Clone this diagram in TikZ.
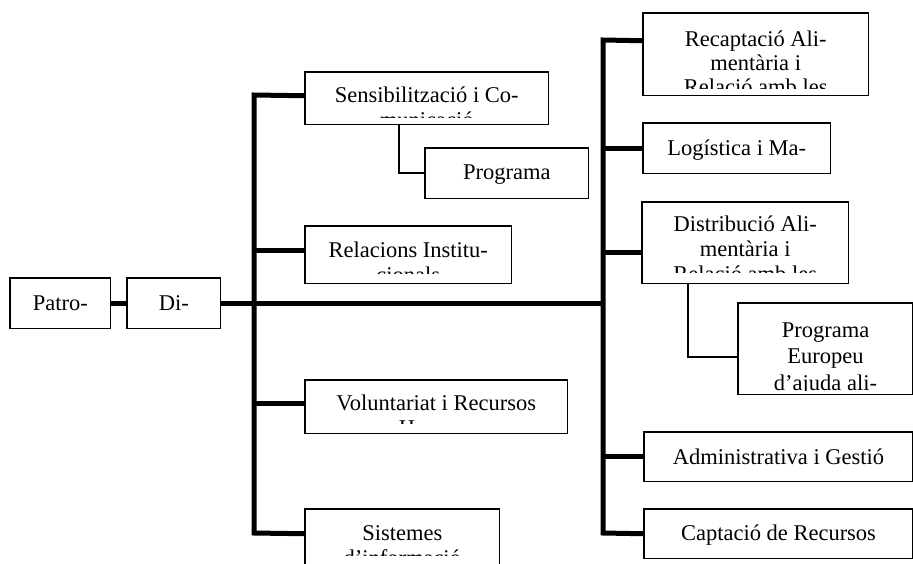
\documentclass[tikz,border=0pt]{standalone}
\usepackage{fontspec}
\setmainfont{Liberation Serif}
\begin{document}
\begin{tikzpicture}[x=1pt,y=-1pt,
  box/.style={draw=black, line width=1.5pt, fill=white, inner sep=0pt, anchor=north west},
  trunk/.style={line width=5pt, line join=miter},
  twig/.style={line width=2pt},
  txt/.style={anchor=base, align=center, inner sep=0pt, font=\fontsize{22.5}{25}\selectfont},
  txtA/.style={txt, font=\fontsize{22.5}{24}\selectfont},
  txtB/.style={txt, font=\fontsize{22.5}{26.5}\selectfont}]
\useasboundingbox (0,0) rectangle (913,563);
\clip (0,0) rectangle (913,563);

% boxes
\node[box, minimum width=99pt,  minimum height=49pt] (patro) at (10,278) {};
\node[box, minimum width=92pt,  minimum height=49pt] (dir)   at (127,278) {};
\node[box, minimum width=242pt, minimum height=51pt] (sens)  at (305,72) {};
\node[box, minimum width=162pt, minimum height=49pt] (prog)  at (425,148) {};
\node[box, minimum width=205pt, minimum height=56pt] (rel)   at (305,226) {};
\node[box, minimum width=261pt, minimum height=52pt] (vol)   at (305,380) {};
\node[box, minimum width=193pt, minimum height=60pt] (sis)   at (305,509) {};
\node[box, minimum width=224pt, minimum height=81pt] (rec)   at (643,13) {};
\node[box, minimum width=186pt, minimum height=49pt] (log)   at (643,123) {};
\node[box, minimum width=205pt, minimum height=80pt] (dist)  at (642,202) {};
\node[box, minimum width=173.5pt, minimum height=90pt] (pe)  at (738,303) {};
\node[box, minimum width=267.5pt, minimum height=48pt] (adm) at (644,432) {};
\node[box, minimum width=267.5pt, minimum height=48pt] (cap) at (644,509) {};

% connection points
\path ([yshift=2.5pt]sens.west) coordinate (sensp)
      ([yshift=4pt]rel.west) coordinate (relp)
      ([yshift=3pt]vol.west) coordinate (volp)
      ([yshift=6pt]sis.west) coordinate (sisp)
      ([yshift=13.5pt]rec.west) coordinate (recp)
      ([yshift=-10pt]dist.west) coordinate (distp)
      ([yshift=-8pt]pe.west) coordinate (pep)
      ([xshift=-28pt]sens.south) coordinate (sensd)
      ([xshift=-57.5pt]dist.south) coordinate (distd);
\coordinate (lt) at (254,95);
\coordinate (lb) at (254,533);
\coordinate (rt) at (603,40);
\coordinate (rb) at (603,533);

% trunk lines
\draw[trunk] (patro.east) -- (dir.west);
\draw[trunk] (dir.east) -- (rt |- dir.east);
\draw[trunk] (sensp) -- (lt) -- (lb) -- (sisp);
\draw[trunk] (relp) -- (lt |- relp);
\draw[trunk] (volp) -- (lt |- volp);
\draw[trunk] (recp) -- (rt) -- (rb) -- (cap.west);
\draw[trunk] (log.west) -- (rt |- log.west);
\draw[trunk] (distp) -- (rt |- distp);
\draw[trunk] (adm.west) -- (rt |- adm.west);

% thin connectors
\draw[twig] (sensd) |- (prog.west);
\draw[twig] (distd) |- (pep);

% redraw boxes on top of lines
\foreach \n in {patro,dir,sens,prog,rel,vol,sis,rec,log,dist,pe,adm,cap}
  \draw[line width=1.5pt, fill=white] (\n.north west) rectangle (\n.south east);

% texts (anchor base = baseline of the last line)
\node[txt] (tpatro) at (patro.center |- 0,310) {Patro-};
\node[txt] (tdir) at (dir.center |- 0,310) {Di-};
\begin{scope}
  \clip (sens.north west) rectangle (547,117);
  \node[txt] (tsens) at (sens.center |- 0,127) {Sensibilització i Co-\\municació};
\end{scope}
\node[txt] (tprog) at (prog.center |- 0,179) {Programa};
\begin{scope}
  \clip (rel.north west) rectangle (510,273);
  \node[txt] (trel) at (rel.center |- 0,282) {Relacions Institu-\\cionals};
\end{scope}
\begin{scope}
  \clip (vol.north west) rectangle (566,423);
  \node[txt] (tvol) at (vol.center |- 0,435) {Voluntariat i Recursos\\Humans};
\end{scope}
\begin{scope}
  \clip (sis.north west) rectangle (498,555);
  \node[txt] (tsis) at (sis.center |- 0,565) {Sistemes\\d’informació};
\end{scope}
\begin{scope}
  \clip (rec.north west) rectangle (867,88);
  \node[txtA] (trec) at (rec.center |- 0,94) {Recaptació Ali-\\mentària i\\Relació amb les};
\end{scope}
\node[txt] (tlog) at (log.center |- 0,155) {Logística i Ma-};
\begin{scope}
  \clip (dist.north west) rectangle (847,272);
  \node[txt] (tdist) at (dist.center |- 0,281) {Distribució Ali-\\mentària i\\Relació amb les};
\end{scope}
\begin{scope}
  \clip (pe.north west) rectangle (911.5,390.5);
  \node[txtB] (tpe) at (pe.center |- 0,390) {Programa\\Europeu\\d’ajuda ali-};
\end{scope}
\node[txt] (tadm) at (adm.center |- 0,464) {Administrativa i Gestió};
\node[txt] (tcap) at (cap.center |- 0,540) {Captació de Recursos};
\end{tikzpicture}
\end{document}
